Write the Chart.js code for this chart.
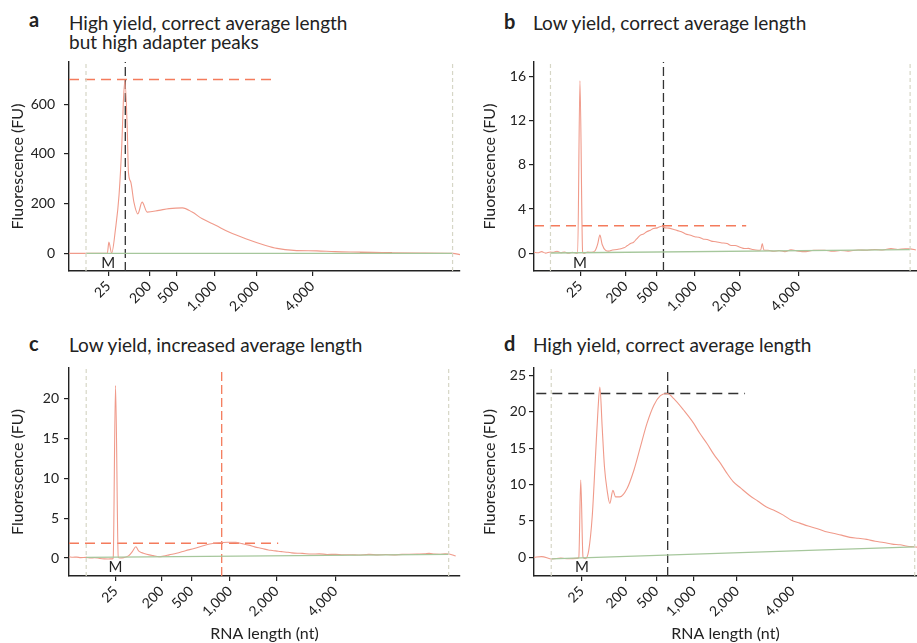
<!DOCTYPE html>
<html lang="en">
<head>
<meta charset="UTF-8">
<title>Library QC traces</title>
<script src="https://cdn.jsdelivr.net/npm/chart.js"></script>
<style>
  body { margin: 0; background: #fff; font-family: Lato, sans-serif; color: #222; }
  #page { position: relative; width: 917px; height: 643px; overflow: hidden; }
  canvas { position: absolute; }
  .letter { position: absolute; font-weight: 700; font-size: 20px; line-height: 20px; }
  .title { position: absolute; font-size: 19px; line-height: 19px; white-space: nowrap; }
</style>
</head>
<body>
<div id="page">
  <div class="letter" style="left:29px; top:9px;">a</div>
  <div class="title" style="left:69px; top:13px;">High yield, correct average length<br>but high adapter peaks</div>
  <div class="letter" style="left:504px; top:11px;">b</div>
  <div class="title" style="left:533px; top:13px;">Low yield, correct average length</div>
  <div class="letter" style="left:29px; top:333px;">c</div>
  <div class="title" style="left:69px; top:335px;">Low yield, increased average length</div>
  <div class="letter" style="left:504px; top:333px;">d</div>
  <div class="title" style="left:533px; top:335px;">High yield, correct average length</div>

  <canvas id="chartA" width="465" height="265" style="left:0; top:55px;"></canvas>
  <canvas id="chartB" width="452" height="265" style="left:465px; top:55px;"></canvas>
  <canvas id="chartC" width="465" height="283" style="left:0; top:360px;"></canvas>
  <canvas id="chartD" width="452" height="283" style="left:465px; top:360px;"></canvas>
</div>
<script>
// x is migration position along the axis (0-100), y is fluorescence (FU)
const tickLabels = ['25', '200', '500', '1,000', '2,000', '4,000'];

// panel a
const aX = [0, 4.35, 9.8, 10.2, 10.9, 11.9, 12.8, 13.5, 13.9, 14.3, 14.9, 15.2, 15.8, 16.6, 17.6, 18.7, 20.0, 23.0, 25.6, 29.0, 31.5, 34.1, 37.5, 40.9, 45.2, 50.3, 53.2, 57.5, 63.4, 68, 74.4, 82.6, 90, 98.2, 100];
const aY = [0, 0, 0, 45, 0, 99, 235, 435, 609, 696, 501, 327, 287, 206, 159, 206, 166, 173, 180, 183, 166, 139, 113, 86, 59, 32, 20, 12, 10, 7, 5, 2, 1, 0, -5];
const aTicks = [10.05, 20.5, 27.6, 37.2, 48.1, 62.2];
const aYTicks = [0, 200, 400, 600];
const aRange = [-71, 770];
const aWindow = [4.35, 98.1];
const aBase = [0, 0];
const aPeakX = 14.4;
const aPeakY = 700;
const aPeakEnd = 52.9;
const aMarker = 10.05;
const aOverlapX = [74.4, 82.6];
const aOverlapY = [1, 1];

// panel b
const bX = [0, 1, 2, 3, 4.3, 5, 6, 7, 8, 9, 10, 11, 11.4, 12.0, 12.7, 13, 14, 15, 16, 16.6, 17.2, 17.8, 18.7, 19.5, 20.5, 21.7, 22.6, 23.5, 24.4, 25.2, 26, 26.8, 27.8, 28.6, 29.4, 30.4, 31.2, 32.2, 33.3, 34.2, 35.2, 36.5, 37.5, 38.5, 39.6, 40.9, 42, 43, 44.1, 45.2, 46.3, 47.5, 48.8, 50.4, 51.5, 52.5, 53.8, 55.0, 56, 57, 58.5, 59.2, 59.6, 60, 61.1, 62.5, 64, 65.5, 67.1, 69, 71, 73, 75.9, 78, 80, 82, 84.6, 87, 89, 91, 93.2, 95, 97, 98.2, 99.7];
const bY = [0.1, 0.05, 0.15, 0.02, 0.12, 0.08, 0.18, 0.05, 0.12, 0, 0.1, 0.02, 0, 15.6, 0.1, 0, 0.12, 0.08, 0.25, 0.8, 1.64, 0.8, 0.27, 0.2, 0.3, 0.34, 0.42, 0.5, 0.7, 0.88, 1.0, 1.3, 1.64, 1.75, 1.95, 2.09, 2.25, 2.3, 2.45, 2.3, 2.28, 2.15, 2.05, 1.95, 1.75, 1.64, 1.5, 1.45, 1.3, 1.25, 1.1, 1.05, 0.95, 0.88, 0.7, 0.7, 0.55, 0.43, 0.45, 0.35, 0.27, 0.3, 0.88, 0.3, 0.27, 0.18, 0.25, 0.15, 0.32, 0.2, 0.15, 0.28, 0.27, 0.18, 0.25, 0.2, 0.3, 0.28, 0.35, 0.3, 0.42, 0.35, 0.4, 0.4, 0.3];
const bTicks = [12.1, 23.9, 31.9, 42.0, 53.7, 69.0];
const bYTicks = [0, 4, 8, 12, 16];
const bRange = [-1.6, 17.3];
const bWindow = [4.3, 98.2];
const bBase = [0.03, 0.34];
const bPeakX = 33.8;
const bPeakY = 2.5;
const bPeakEnd = 55.4;
const bMarker = 12.0;

// panel c
const cX = [0, 1, 2, 3, 4.4, 5.5, 6.5, 7.9, 9, 10, 11.1, 11.3, 11.9, 12.6, 13, 14, 15.3, 16.2, 17.1, 17.8, 18.5, 19.2, 20.5, 21.5, 23.0, 24.3, 25.6, 27.5, 29.8, 32, 34.1, 36, 38.4, 40.5, 42.6, 44.3, 46, 47.5, 49.4, 51, 52, 53.5, 54.6, 56, 57, 58.5, 59.7, 62, 64, 66, 68.2, 70, 72, 74, 76.7, 79, 81, 83, 85.2, 87, 89, 91, 92.1, 93.5, 95, 96.2, 97.2, 98.9];
const cY = [0.15, 0.1, 0.12, 0.05, 0.08, 0, 0.05, -0.05, -0.1, -0.12, -0.1, 0, 21.6, 0.1, 0, 0.05, 0.3, 0.8, 1.41, 0.9, 0.7, 0.58, 0.4, 0.3, 0.17, 0.25, 0.4, 0.6, 0.92, 1.2, 1.5, 1.75, 1.92, 1.98, 1.96, 1.8, 1.62, 1.4, 1.2, 1.0, 0.95, 0.85, 0.79, 0.72, 0.65, 0.6, 0.58, 0.5, 0.52, 0.45, 0.46, 0.4, 0.42, 0.38, 0.46, 0.4, 0.44, 0.4, 0.46, 0.48, 0.5, 0.52, 0.58, 0.5, 0.48, 0.52, 0.5, 0.25];
const cTicks = [11.9, 23.7, 31.3, 41.2, 53.1, 68.1];
const cYTicks = [0, 5, 10, 15, 20];
const cRange = [-2.25, 23.8];
const cWindow = [4.4, 97.1];
const cBase = [0.08, 0.46];
const cPeakX = 39.05;
const cPeakY = 1.84;
const cPeakEnd = 53.5;
const cMarker = 11.9;

// panel d
const dX = [0, 2, 4.7, 7, 9, 11.2, 11.7, 12.2, 12.8, 13.4, 14.3, 15.2, 16.0, 16.7, 17.2, 17.8, 18.4, 19.1, 19.8, 20.6, 21.3, 22.4, 24.3, 26.1, 27.8, 29.5, 31.3, 33.0, 34.8, 36.5, 39.1, 41.7, 43.2, 45.2, 47.0, 48.7, 50.3, 52.0, 54.0, 56.3, 58.5, 60.7, 62.9, 65.1, 67.2, 69.4, 71.6, 73.8, 76, 78.1, 80.3, 82.5, 84.7, 86.9, 89.1, 91.3, 93.5, 95.6, 97.5, 99.0, 100];
const dY = [0, 0.1, -0.23, -0.1, -0.2, -0.14, 0, 10.6, 0, -0.2, 1.0, 5.6, 13.3, 20.2, 23.4, 17.9, 12.4, 9.2, 7.4, 9.2, 8.3, 8.3, 9.45, 12.0, 15.2, 18.4, 20.9, 22.2, 22.5, 21.8, 20.2, 18.4, 17.1, 15.6, 14.1, 12.9, 11.6, 10.4, 9.5, 8.5, 7.7, 6.9, 6.4, 5.8, 5.1, 4.7, 4.3, 3.97, 3.55, 3.3, 3.05, 2.74, 2.62, 2.47, 2.2, 2.05, 1.82, 1.72, 1.52, 1.45, 1.4];
const dTicks = [12.5, 23.9, 31.9, 41.7, 53.0, 67.5];
const dYTicks = [0, 5, 10, 15, 20, 25];
const dRange = [-2.56, 26];
const dWindow = [4.5, 99.4];
const dBase = [-0.2, 1.45];
const dPeakX = 34.9;
const dPeakY = 22.5;
const dPeakStart = 0.6;
const dPeakEnd = 55.1;
const dMarker = 12.5;

const FONT = 'Lato, "Noto Sans", sans-serif';
const INK = '#222';
const TRACE = '#f09a8a';
const ORANGE = '#f47b5c';
const DARK = '#333';
const GREY = '#d6d6c6';
const GREEN = '#a6c79c';

const pts = (xs, ys) => xs.map((x, i) => ({ x, y: ys[i] }));

const markerPlugin = {
  id: 'mLabel',
  afterDatasetsDraw(chart, args, opts) {
    const { ctx, chartArea, scales } = chart;
    ctx.save();
    ctx.font = '15px ' + FONT;
    ctx.fillStyle = INK;
    ctx.textAlign = 'center';
    ctx.textBaseline = 'middle';
    ctx.fillText('M', scales.x.getPixelForValue(opts.x), chartArea.bottom - opts.dy);
    ctx.restore();
  }
};

function makePanel(id, p) {
  const [yMin, yMax] = p.range;
  const line = (data, color, width, dash) => ({
    data, borderColor: color, borderWidth: width, borderDash: dash || [],
    pointRadius: 0, tension: 0, fill: false
  });
  const trace = line(pts(p.xs, p.ys), TRACE, 1.1);
  trace.cubicInterpolationMode = 'monotone';
  const datasets = [
    line([{ x: p.window[0], y: yMin }, { x: p.window[0], y: yMax }], GREY, 1.2, [4, 3]),
    line([{ x: p.window[1], y: yMin }, { x: p.window[1], y: yMax }], GREY, 1.2, [4, 3]),
    line([{ x: p.window[0], y: p.base[0] }, { x: p.window[1], y: p.base[1] }], GREEN, 1.3),
    trace
  ];
  if (p.overlap) datasets.push(line(pts(p.overlap[0], p.overlap[1]), '#c98a6c', 2));
  datasets.push(line([{ x: p.hStart, y: p.peakY }, { x: p.hEnd, y: p.peakY }], p.hColor, 1.5, [10, 6]));
  datasets.push(line([{ x: p.peakX, y: yMin }, { x: p.peakX, y: yMax }], p.vColor, 1.3, [9, 4]));

  new Chart(document.getElementById(id), {
    type: 'line',
    data: { datasets },
    plugins: [markerPlugin],
    options: {
      responsive: false,
      animation: false,
      layout: { padding: p.pad },
      plugins: {
        legend: { display: false },
        tooltip: { enabled: false },
        mLabel: { x: p.marker, dy: p.mdy }
      },
      scales: {
        x: {
          type: 'linear', min: 0, max: 100,
          afterBuildTicks: s => { s.ticks = p.ticks.map(v => ({ value: v })); },
          afterFit: s => { s.height = p.xh; s.paddingLeft = 0; s.paddingRight = 0; },
          ticks: {
            autoSkip: false, minRotation: 45, maxRotation: 45, padding: 2,
            color: INK, font: { family: FONT, size: 14 },
            callback: (v, i) => tickLabels[i]
          },
          grid: { display: true, drawOnChartArea: false, drawTicks: true, tickLength: 5, color: INK, lineWidth: 1.2 },
          border: { display: true, color: INK, width: 1.4 },
          title: {
            display: p.xTitle, text: 'RNA length (nt)', color: INK,
            font: { family: FONT, size: 16 }, padding: { top: 0, bottom: 0 }
          }
        },
        y: {
          type: 'linear', min: yMin, max: yMax,
          afterBuildTicks: s => { s.ticks = p.yTicks.map(v => ({ value: v })); },
          afterFit: s => { s.width = p.yw; s.paddingTop = 0; s.paddingBottom = 0; },
          ticks: { padding: p.tpad, color: INK, font: { family: FONT, size: 14 } },
          grid: { display: true, drawOnChartArea: false, drawTicks: true, tickLength: 5, color: INK, lineWidth: 1.2 },
          border: { display: true, color: INK, width: 1.4 },
          title: {
            display: true, text: 'Fluorescence (FU)', color: INK,
            font: { family: FONT, size: 16 }, padding: { top: p.ytpad, bottom: 0 }
          }
        }
      }
    }
  });
}

makePanel('chartA', {
  xs: aX, ys: aY, ticks: aTicks, yTicks: aYTicks, range: aRange, window: aWindow, base: aBase,
  peakX: aPeakX, peakY: aPeakY, hStart: 0, hEnd: aPeakEnd, hColor: ORANGE, vColor: DARK,
  overlap: [aOverlapX, aOverlapY], marker: aMarker, mdy: 8,
  pad: { top: 7, left: 0, right: 5, bottom: 0 }, xh: 49, yw: 69, tpad: 9, ytpad: 8, xTitle: false
});
makePanel('chartB', {
  xs: bX, ys: bY, ticks: bTicks, yTicks: bYTicks, range: bRange, window: bWindow, base: bBase,
  peakX: bPeakX, peakY: bPeakY, hStart: 0, hEnd: bPeakEnd, hColor: ORANGE, vColor: DARK,
  marker: bMarker, mdy: 8,
  pad: { top: 7, left: 0, right: 0, bottom: 0 }, xh: 49, yw: 69, tpad: 3, ytpad: 15, xTitle: false
});
makePanel('chartC', {
  xs: cX, ys: cY, ticks: cTicks, yTicks: cYTicks, range: cRange, window: cWindow, base: cBase,
  peakX: cPeakX, peakY: cPeakY, hStart: 0, hEnd: cPeakEnd, hColor: ORANGE, vColor: ORANGE,
  marker: cMarker, mdy: 9,
  pad: { top: 8, left: 0, right: 5, bottom: 0 }, xh: 67, yw: 69, tpad: 5, ytpad: 8, xTitle: true
});
makePanel('chartD', {
  xs: dX, ys: dY, ticks: dTicks, yTicks: dYTicks, range: dRange, window: dWindow, base: dBase,
  peakX: dPeakX, peakY: dPeakY, hStart: dPeakStart, hEnd: dPeakEnd, hColor: DARK, vColor: DARK,
  marker: dMarker, mdy: 9,
  pad: { top: 8, left: 0, right: 0, bottom: 0 }, xh: 67, yw: 69, tpad: 3, ytpad: 15, xTitle: true
});
</script>
</body>
</html>
